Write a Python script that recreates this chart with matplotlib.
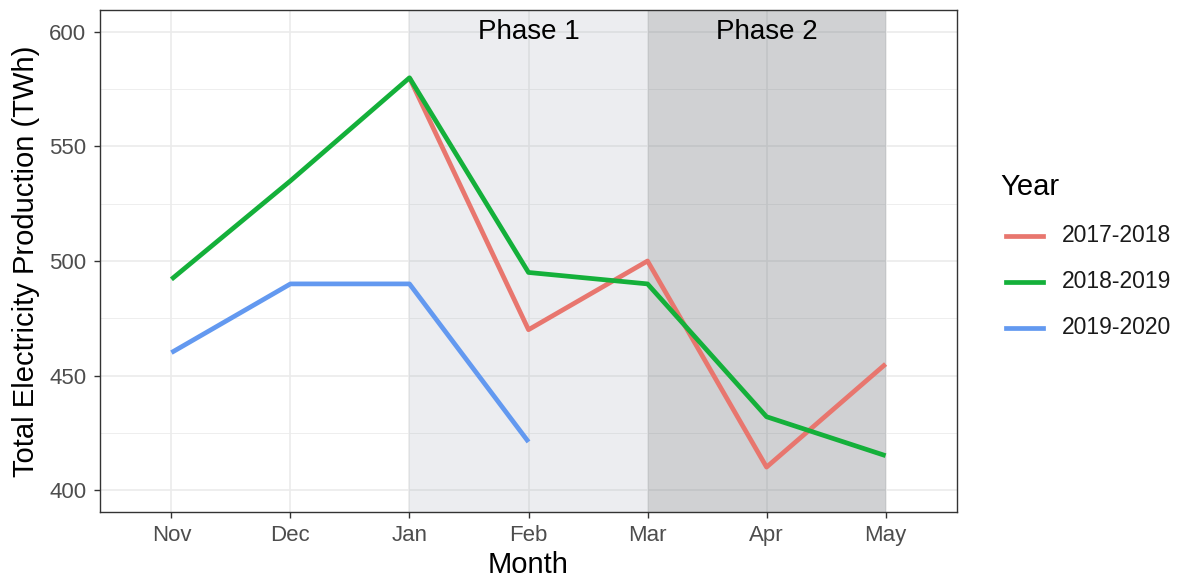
import numpy as np
import matplotlib
matplotlib.use("Agg")
import matplotlib.pyplot as plt
from matplotlib.lines import Line2D

months = ["Nov", "Dec", "Jan", "Feb", "Mar", "Apr", "May"]
years = ["2017-2018", "2018-2019", "2019-2020"]
v_2017_2018 = [np.nan, np.nan, 580, 470, 500, 410, 455]
v_2018_2019 = [492, 535, 580, 495, 490, 432, 415]
v_2019_2020 = [460, 490, 490, 421, np.nan, np.nan, np.nan]
colors = ["#E8766E", "#14B03A", "#6399F0"]
phases = ["Phase 1", "Phase 2"]
phase_start = ["Jan", "Mar"]
phase_end = ["Mar", "May"]

plt.rcParams['font.family'] = ['Liberation Sans', 'DejaVu Sans']

fig = plt.figure(figsize=(11.79, 5.81), dpi=100)
ax = fig.add_axes([100/1179, 1-512/581, (957-100)/1179, (512-10)/581])

x = np.arange(len(months))
ax.set_xlim(-0.6, len(months) - 1 + 0.6)
ax.set_ylim(390.4, 609.6)

# grid
for yv in np.arange(400, 601, 50):
    ax.axhline(yv, color="#ebebeb", lw=1.2, zorder=0)
for yv in np.arange(425, 601, 50):
    ax.axhline(yv, color="#ebebeb", lw=0.6, zorder=0)
for xv in x:
    ax.axvline(xv, color="#ebebeb", lw=1.2, zorder=0)

# phase rects
rect_cols = [("#a0a8b4", 0.2), ("#6e7278", 0.32)]
for name, s, e, (c, a) in zip(phases, phase_start, phase_end, rect_cols):
    xs, xe = months.index(s), months.index(e)
    ax.axvspan(xs, xe, color=c, alpha=a, lw=0, zorder=1)
    ax.text((xs + xe) / 2, 600, name, ha="center", va="center", fontsize=20, color="black", zorder=5)

series = [v_2017_2018, v_2018_2019, v_2019_2020]
for vals, col in zip(series, colors):
    ax.plot(x, vals, color=col, lw=3.4, zorder=3, solid_capstyle="butt")

ax.set_xticks(x)
ax.set_xticklabels(months)
ax.set_yticks(np.arange(400, 601, 50))
ax.tick_params(axis="both", colors="#333333", labelcolor="#4d4d4d", labelsize=16, length=4.3, width=1)
ax.tick_params(axis="x", pad=5)
ax.tick_params(axis="y", pad=5.5)
for sp in ax.spines.values():
    sp.set_color("#333333")
    sp.set_linewidth(1.0)
ax.set_xlabel("Month", fontsize=21, labelpad=4)
ax.set_ylabel("Total Electricity Production (TWh)", fontsize=21, labelpad=7)

# legend
fig.text(1000/1179, 1-187/581, "Year", fontsize=21, ha="left", va="center")
leg_y = [236, 282, 328]
for yy, lab, col in zip(leg_y, years, colors):
    fy = 1 - yy/581
    fig.add_artist(Line2D([1006/1179, 1043/1179], [fy, fy], color=col, lw=3.4, transform=fig.transFigure))
    fig.text(1062/1179, fy, lab, fontsize=16.5, ha="left", va="center", color="#1a1a1a")

fig.savefig("out.png", dpi=100)
